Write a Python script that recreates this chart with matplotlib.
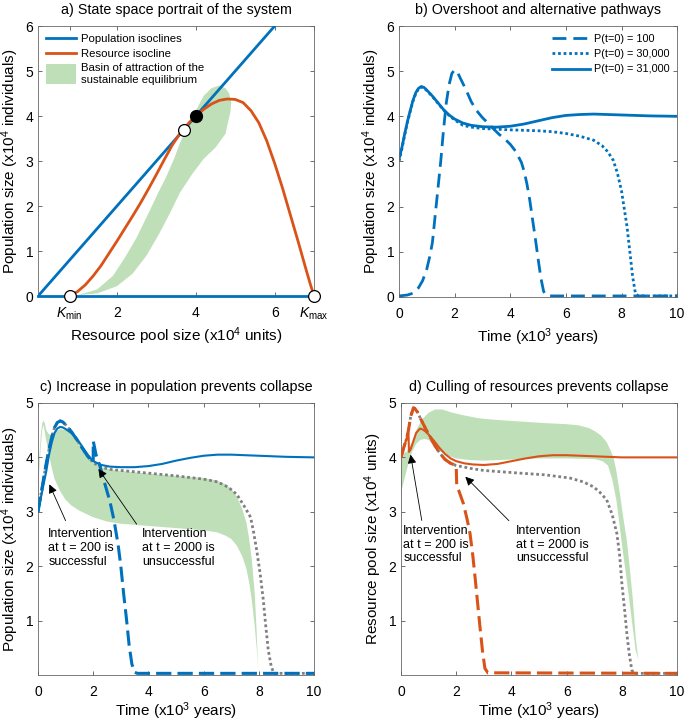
import numpy as np
import matplotlib.pyplot as plt
import matplotlib.patches as mpatches
from matplotlib.legend_handler import HandlerPatch

plt.rcParams['font.family'] = ['Liberation Sans', 'DejaVu Sans']
plt.rcParams['mathtext.fontset'] = 'custom'
plt.rcParams['mathtext.rm'] = 'Liberation Sans'
plt.rcParams['mathtext.it'] = 'Liberation Sans:italic'

BLUE = '#0072BD'
ORANGE = '#D95319'
GREEN = '#bfdfb9'
GRAY = '#808080'

# ---- panel a: state space ----
pop_iso_R = [0, 6]
pop_iso_P = [0, 6]
pop_zero_R = [0, 7]
pop_zero_P = [0, 0]
res_iso_R = [0.8, 1.0, 1.2, 1.4, 1.6, 1.8, 2.0, 2.2, 2.4, 2.6, 2.8, 3.0, 3.2, 3.4, 3.55, 3.7, 3.85, 4.0, 4.2,
             4.4, 4.6, 4.8, 5.0, 5.2, 5.4, 5.6, 5.8, 6.0, 6.2, 6.4, 6.6, 6.8, 6.9, 7.0]
res_iso_P = [0.0, 0.1, 0.25, 0.45, 0.68, 0.95, 1.22, 1.5, 1.78, 2.07, 2.38, 2.7, 3.03, 3.35, 3.55, 3.72, 3.87,
             4.0, 4.15, 4.27, 4.35, 4.38, 4.37, 4.3, 4.12, 3.85, 3.45, 2.95, 2.4, 1.8, 1.2, 0.58, 0.28, 0.0]
basin_R = [1.0, 1.5, 1.9, 2.2, 2.5, 2.8, 3.05, 3.25, 3.45, 3.6, 3.75, 3.9, 4.05, 4.2, 4.4, 4.6, 4.75, 4.85,
           4.9, 4.88, 4.75, 4.5, 4.2, 3.9, 3.6, 3.35, 3.05, 2.75, 2.4, 2.0, 1.5, 1.0]
basin_P = [0.02, 0.15, 0.45, 0.85, 1.3, 1.84, 2.3, 2.65, 3.05, 3.4, 3.7, 3.95, 4.2, 4.45, 4.62, 4.68, 4.62,
           4.5, 4.3, 4.1, 3.6, 3.3, 3.05, 2.7, 2.3, 1.85, 1.35, 0.9, 0.5, 0.22, 0.06, 0.02]
open_pts_R = [0.8, 3.7, 7.0]
open_pts_P = [0.0, 3.7, 0.0]
stable_R = [4.0]
stable_P = [4.0]

# ---- panel b: trajectories ----
t100 = [0, 0.3, 0.5, 0.7, 0.85, 1.0, 1.1, 1.2, 1.3, 1.4, 1.5, 1.6, 1.7, 1.8, 1.9, 2.0, 2.1, 2.2, 2.4, 2.6, 2.8,
        3.0, 3.2, 3.4, 3.6, 3.8, 4.0, 4.2, 4.4, 4.5, 4.6, 4.7, 4.8, 4.9, 5.0, 5.1, 5.2, 5.3, 5.5, 10]
p100 = [0.02, 0.04, 0.08, 0.2, 0.36, 0.62, 0.88, 1.2, 1.8, 2.4, 3.0, 3.7, 4.3, 4.7, 4.95, 5.03, 4.98, 4.85,
        4.6, 4.32, 4.12, 3.97, 3.85, 3.72, 3.6, 3.5, 3.38, 3.22, 2.98, 2.78, 2.5, 2.15, 1.72, 1.3, 0.85, 0.42,
        0.12, 0.03, 0.02, 0.02]
t30k = [0, 0.1, 0.2, 0.3, 0.4, 0.5, 0.6, 0.7, 0.8, 0.9, 1.0, 1.2, 1.4, 1.6, 1.8, 2.0, 2.3, 2.6, 3.0, 4.0, 5.0,
        5.5, 6.0, 6.5, 7.0, 7.3, 7.5, 7.7, 7.85, 8.0, 8.1, 8.2, 8.3, 8.4, 8.5, 8.6, 10]
p30k = [3.0, 3.27, 3.57, 3.86, 4.1, 4.33, 4.5, 4.61, 4.65, 4.63, 4.57, 4.44, 4.29, 4.14, 4.02, 3.92, 3.8, 3.76,
        3.73, 3.7, 3.68, 3.66, 3.62, 3.56, 3.47, 3.35, 3.22, 3.03, 2.75, 2.35, 1.95, 1.55, 1.0, 0.45, 0.08,
        0.02, 0.02]
t31k = [0, 0.1, 0.2, 0.3, 0.4, 0.5, 0.6, 0.7, 0.8, 0.9, 1.0, 1.2, 1.4, 1.6, 1.8, 2.0, 2.3, 2.6, 3.0, 3.5, 4.0,
        4.5, 5.0, 5.5, 6.0, 6.5, 7.0, 7.5, 8.0, 9.0, 10]
p31k = [3.05, 3.3, 3.6, 3.88, 4.12, 4.35, 4.52, 4.62, 4.66, 4.64, 4.58, 4.45, 4.3, 4.15, 4.03, 3.94, 3.85, 3.8,
        3.77, 3.76, 3.78, 3.83, 3.9, 3.97, 4.02, 4.04, 4.05, 4.04, 4.03, 4.01, 4.0]

# ---- panel c: population interventions ----
tc_ok = [0, 0.1, 0.2, 0.3, 0.4, 0.5, 0.6, 0.7, 0.8, 0.9, 1.0, 1.2, 1.4, 1.6, 1.8, 2.0, 2.3, 2.6, 3.0, 3.5, 4.0,
         4.5, 5.0, 5.5, 6.0, 6.5, 7.0, 7.5, 8, 9, 10]
pc_ok = [3.0, 3.25, 3.5, 3.75, 4.05, 4.28, 4.45, 4.53, 4.56, 4.55, 4.52, 4.45, 4.35, 4.2, 4.05, 3.93, 3.86,
         3.83, 3.82, 3.82, 3.84, 3.88, 3.94, 3.99, 4.03, 4.05, 4.05, 4.04, 4.03, 4.01, 4.0]
tc_bad = [0, 0.1, 0.2, 0.3, 0.4, 0.5, 0.6, 0.7, 0.8, 0.9, 1.0, 1.2, 1.4, 1.6, 1.8, 2.0, 2.0, 2.05, 2.1, 2.25,
          2.4, 2.6, 2.75, 2.9, 3.0, 3.1, 3.2, 3.3, 3.4, 3.5, 3.6, 10]
pc_bad = [3.0, 3.3, 3.6, 3.9, 4.15, 4.38, 4.55, 4.64, 4.67, 4.65, 4.6, 4.48, 4.33, 4.17, 4.02, 3.9, 4.3, 4.18,
          4.05, 3.83, 3.55, 3.2, 2.85, 2.4, 2.0, 1.5, 1.05, 0.55, 0.2, 0.05, 0.03, 0.03]
tc_ref = [0, 0.1, 0.2, 0.3, 0.4, 0.5, 0.6, 0.7, 0.8, 0.9, 1.0, 1.2, 1.4, 1.6, 1.8, 2.0, 2.3, 2.6, 3.0, 4.0, 5.0,
          5.5, 6.0, 6.5, 6.9, 7.2, 7.45, 7.7, 7.8, 7.92, 8.05, 8.16, 8.25, 8.34, 8.45, 8.55, 10]
pc_ref = [3.0, 3.3, 3.6, 3.9, 4.15, 4.38, 4.55, 4.64, 4.67, 4.65, 4.6, 4.48, 4.33, 4.17, 4.02, 3.9, 3.82, 3.78,
          3.76, 3.71, 3.66, 3.63, 3.6, 3.55, 3.45, 3.32, 3.12, 2.9, 2.65, 2.3, 1.85, 1.38, 0.9, 0.46, 0.15, 0.03,
          0.03]
bandc_up_t = [0, 0.05, 0.1, 0.15, 0.2, 0.25, 0.3, 0.4, 0.5, 0.6, 0.8, 1.0, 1.2, 1.4, 1.6, 1.8, 2.0, 2.3, 2.6,
              3.0, 4.0, 5.0, 6.0, 6.5, 6.8, 7.0, 7.2, 7.4, 7.55, 7.65, 7.75, 7.85, 7.92, 7.97]
bandc_up_p = [3.4, 4.0, 4.4, 4.62, 4.68, 4.62, 4.5, 4.42, 4.42, 4.46, 4.52, 4.5, 4.44, 4.33, 4.18, 4.03, 3.9,
              3.82, 3.78, 3.75, 3.7, 3.66, 3.62, 3.57, 3.5, 3.42, 3.28, 3.05, 2.8, 2.5, 2.1, 1.5, 0.8, 0.1]
bandc_lo_t = [0, 0.05, 0.1, 0.15, 0.2, 0.25, 0.3, 0.4, 0.5, 0.6, 0.8, 1.0, 1.2, 1.5, 2.0, 2.5, 3.0, 4.0, 5.0,
              6.0, 6.5, 6.8, 7.0, 7.2, 7.4, 7.55, 7.65, 7.75, 7.85, 7.92, 7.97]
bandc_lo_p = [3.4, 3.8, 4.2, 4.5, 4.6, 4.45, 4.3, 4.05, 3.8, 3.6, 3.38, 3.22, 3.12, 3.02, 2.9, 2.82, 2.78, 2.74,
              2.7, 2.66, 2.62, 2.56, 2.5, 2.38, 2.18, 1.95, 1.7, 1.35, 0.9, 0.5, 0.1]

# ---- panel d: resource interventions ----
td_ok = [0, 0.1, 0.2, 0.27, 0.29, 0.35, 0.45, 0.55, 0.69, 0.8, 0.9, 1.0, 1.2, 1.4, 1.6, 1.8, 2.0, 2.3, 2.6,
         3.0, 3.5, 4.0, 4.5, 5.0, 5.5, 6.0, 6.5, 7.0, 8, 10]
rd_ok = [4.0, 4.18, 4.34, 4.45, 4.1, 4.15, 4.3, 4.45, 4.53, 4.51, 4.47, 4.42, 4.3, 4.17, 4.06, 3.98, 3.93, 3.89,
         3.87, 3.86, 3.88, 3.93, 3.98, 4.02, 4.04, 4.04, 4.03, 4.02, 4.0, 4.0]
td_bad = [0, 0.1, 0.2, 0.27, 0.35, 0.45, 0.5, 0.6, 0.7, 0.8, 0.9, 1.0, 1.2, 1.4, 1.6, 1.8, 2.0, 2.02, 2.1,
          2.26, 2.4, 2.5, 2.6, 2.68, 2.77, 2.86, 2.95, 3.04, 3.15, 10]
rd_bad = [4.0, 4.18, 4.34, 4.5, 4.75, 4.91, 4.9, 4.83, 4.72, 4.62, 4.52, 4.43, 4.24, 4.08, 3.96, 3.89, 3.85, 3.46,
          3.38, 3.15, 2.85, 2.6, 2.2, 1.81, 1.35, 0.89, 0.45, 0.12, 0.04, 0.03]
td_ref = [0, 0.1, 0.2, 0.27, 0.35, 0.45, 0.5, 0.6, 0.7, 0.8, 0.9, 1.0, 1.2, 1.4, 1.6, 1.8, 2.0, 2.3, 2.6, 3.0,
          3.5, 4.31, 5.2, 6.12, 6.6, 6.97, 7.2, 7.45, 7.65, 7.82, 7.92, 8.0, 8.1, 8.18, 8.27, 8.36, 8.45, 10]
rd_ref = [4.0, 4.18, 4.34, 4.5, 4.75, 4.91, 4.9, 4.83, 4.72, 4.62, 4.52, 4.43, 4.24, 4.08, 3.96, 3.89, 3.85,
          3.82, 3.79, 3.76, 3.74, 3.71, 3.68, 3.62, 3.55, 3.46, 3.36, 3.22, 2.95, 2.6, 2.2, 1.69, 1.2, 0.77,
          0.38, 0.09, 0.03, 0.03]
bandd_up_t = [0, 0.2, 0.39, 0.55, 0.75, 1.0, 1.23, 1.5, 1.8, 2.2, 2.8, 3.4, 4.3, 5.22, 6.0, 6.42, 6.8, 7.03,
              7.25, 7.45, 7.6, 7.7, 7.8, 7.93, 8.05, 8.18, 8.3, 8.4, 8.5, 8.6]
bandd_up_r = [4.07, 4.1, 4.26, 4.5, 4.69, 4.82, 4.88, 4.88, 4.83, 4.78, 4.72, 4.69, 4.66, 4.63, 4.61, 4.59,
              4.54, 4.48, 4.4, 4.28, 4.12, 4.0, 3.75, 3.34, 2.9, 2.48, 1.9, 1.38, 0.7, 0.28]
bandd_lo_t = [0, 0.1, 0.2, 0.3, 0.4, 0.55, 0.7, 0.85, 1.0, 1.2, 1.4, 1.7, 2.0, 2.5, 3.0, 4, 5, 6, 7, 7.3, 7.5,
              7.65, 7.8, 7.92, 8.03, 8.15, 8.27, 8.4, 8.5, 8.6]
bandd_lo_r = [3.35, 3.55, 3.75, 3.95, 4.1, 4.25, 4.32, 4.34, 4.32, 4.22, 4.12, 4.03, 3.98, 3.95, 3.94, 3.96,
              3.98, 3.98, 3.97, 3.93, 3.85, 3.6, 3.22, 2.75, 2.3, 1.85, 1.38, 0.85, 0.46, 0.28]

fig = plt.figure(figsize=(6.85, 7.24), dpi=100)
ax_a = fig.add_axes([0.0555, 0.591, 0.403, 0.373])
ax_b = fig.add_axes([0.5825, 0.590, 0.406, 0.374])
ax_c = fig.add_axes([0.0555, 0.0677, 0.403, 0.3757])
ax_d = fig.add_axes([0.5854, 0.0677, 0.403, 0.3757])

pop_label = 'Population size (x10$^4$ individuals)'
time_label = 'Time (x10$^3$ years)'
LAB = 11
TIT = 10.3

for ax in (ax_a, ax_b, ax_c, ax_d):
    ax.tick_params(direction='in', top=True, right=True, labelsize=10, length=3, width=0.6, color='#555555')
    ax.tick_params(axis='x', pad=7)
    for s in ax.spines.values():
        s.set_color('#666666')
        s.set_linewidth(0.6)


def tall_patch(legend, orig_handle, xdescent, ydescent, width, height, fontsize):
    h = height * 2.4
    return mpatches.Rectangle((-xdescent, -ydescent + height / 2 - h / 2), width, h)


# a
basin = ax_a.fill(basin_R, basin_P, color=GREEN, lw=0, zorder=1)[0]
l1, = ax_a.plot(pop_iso_R, pop_iso_P, color=BLUE, lw=2, zorder=3)
ax_a.plot(pop_zero_R, pop_zero_P, color=BLUE, lw=2, zorder=3, clip_on=False)
l2, = ax_a.plot(res_iso_R, res_iso_P, color=ORANGE, lw=2, zorder=3)
ax_a.plot(open_pts_R, open_pts_P, 'o', ms=8.5, mfc='white', mec='black', mew=0.9, zorder=5, clip_on=False)
ax_a.plot(stable_R, stable_P, 'o', ms=8.5, mfc='black', mec='black', zorder=5)
ax_a.set_xlim(0, 7)
ax_a.set_ylim(0, 6)
ax_a.set_xticks([0.8, 2, 4, 6, 7])
ax_a.set_xticklabels([r'$\mathit{K}_{\rm min}$', '2', '4', '6', r'$\mathit{K}_{\rm max}$'])
ax_a.set_yticks(range(7))
ax_a.set_xlabel('Resource pool size (x10$^4$ units)', fontsize=LAB, labelpad=2)
ax_a.set_ylabel(pop_label, fontsize=LAB, labelpad=3)
ax_a.set_title('a) State space portrait of the system', fontsize=TIT, pad=8.5)
ax_a.legend([l1, l2, basin],
            ['Population isoclines', 'Resource isocline', 'Basin of attraction of the\nsustainable equilibrium'],
            loc='upper left', frameon=False, fontsize=8.2, handlelength=2.6, borderaxespad=0.3,
            labelspacing=0.4, handletextpad=0.5,
            handler_map={mpatches.Polygon: HandlerPatch(patch_func=tall_patch)})

# b
ax_b.plot(t100, p100, color=BLUE, lw=2, ls=(0, (5, 2.5)), label='P(t=0) = 100')
ax_b.plot(t30k, p30k, color=BLUE, lw=2, ls=(0, (1, 1)), label='P(t=0) = 30,000')
ax_b.plot(t31k, p31k, color=BLUE, lw=2, label='P(t=0) = 31,000')
ax_b.set_xlim(0, 10)
ax_b.set_ylim(0, 6)
ax_b.set_xticks(range(0, 11, 2))
ax_b.set_yticks(range(7))
ax_b.set_xlabel(time_label, fontsize=LAB, labelpad=4)
ax_b.set_ylabel(pop_label, fontsize=LAB, labelpad=3)
ax_b.set_title('b) Overshoot and alternative pathways', fontsize=TIT, pad=8.5)
ax_b.legend(loc='upper right', frameon=False, fontsize=7.8, handlelength=3.5, borderaxespad=0.3,
            labelspacing=0.5, handletextpad=0.4)

# c
ax_c.fill(bandc_up_t + bandc_lo_t[::-1], bandc_up_p + bandc_lo_p[::-1], color=GREEN, lw=0, zorder=1)
ax_c.plot(tc_ref, pc_ref, color=GRAY, lw=2, ls=(0, (1, 1)), zorder=2)
ax_c.plot(tc_bad, pc_bad, color=BLUE, lw=2.2, ls=(0, (5, 2)), zorder=3)
ax_c.plot(tc_ok, pc_ok, color=BLUE, lw=1.5, zorder=4)
ax_c.set_xlim(0, 10)
ax_c.set_ylim(0, 5)
ax_c.set_xticks(range(0, 11, 2))
ax_c.set_yticks([1, 2, 3, 4, 5])
ax_c.set_xlabel(time_label, fontsize=LAB, labelpad=1)
ax_c.set_ylabel(pop_label, fontsize=LAB, labelpad=3)
ax_c.set_title('c) Increase in population prevents collapse', fontsize=TIT, pad=8.5)
arrow = dict(arrowstyle='-|>', color='black', lw=0.6, mutation_scale=13)
ax_c.annotate('', xy=(0.37, 3.55), xytext=(1.04, 2.79), arrowprops=arrow)
ax_c.annotate('', xy=(2.13, 3.83), xytext=(3.63, 2.73), arrowprops=arrow)
ax_c.text(0.37, 2.7, 'Intervention\nat t = 200 is\nsuccessful', fontsize=9, va='top', ha='left',
          linespacing=1.2)
ax_c.text(3.76, 2.7, 'Intervention\nat t = 2000 is\nunsuccessful', fontsize=9, va='top', ha='left',
          linespacing=1.2)

# d
ax_d.fill(bandd_up_t + bandd_lo_t[::-1], bandd_up_r + bandd_lo_r[::-1], color=GREEN, lw=0, zorder=1)
ax_d.plot(td_ref, rd_ref, color=GRAY, lw=2, ls=(0, (1, 1)), zorder=2)
ax_d.plot(td_bad, rd_bad, color=ORANGE, lw=2.2, ls=(0, (5, 2)), zorder=3)
ax_d.plot(td_ok, rd_ok, color=ORANGE, lw=1.5, zorder=4)
ax_d.set_xlim(0, 10)
ax_d.set_ylim(0, 5)
ax_d.set_xticks(range(0, 11, 2))
ax_d.set_yticks([1, 2, 3, 4, 5])
ax_d.set_xlabel(time_label, fontsize=LAB, labelpad=1)
ax_d.set_ylabel('Resource pool size (x10$^4$ units)', fontsize=LAB, labelpad=3)
ax_d.set_title('d) Culling of resources prevents collapse', fontsize=TIT, pad=8.5)
ax_d.annotate('', xy=(0.33, 4.1), xytext=(0.77, 2.79), arrowprops=arrow)
ax_d.annotate('', xy=(2.26, 3.68), xytext=(3.98, 2.8), arrowprops=arrow)
ax_d.text(0.08, 2.76, 'Intervention\nat t = 200 is\nsuccessful', fontsize=9, va='top', ha='left',
          linespacing=1.2)
ax_d.text(4.16, 2.76, 'Intervention\nat t = 2000 is\nunsuccessful', fontsize=9, va='top', ha='left',
          linespacing=1.2)

fig.savefig('out.png', dpi=100)
